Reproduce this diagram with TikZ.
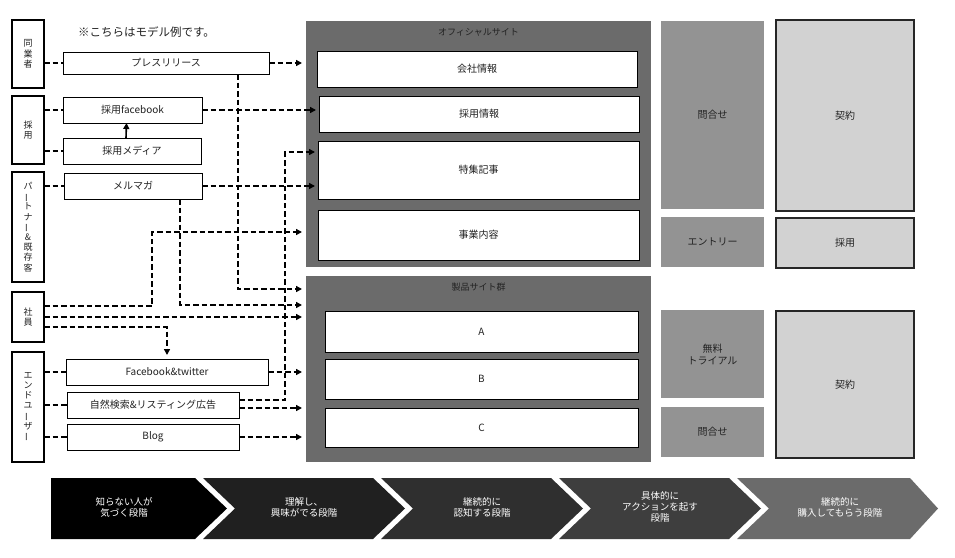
\documentclass[tikz,border=0pt]{standalone}
\usepackage{fontspec}
\setmainfont{Noto Sans CJK JP}
\usepackage{graphicx}
\usetikzlibrary{arrows.meta}
\definecolor{panelgray}{HTML}{6B6B6B}
\definecolor{midgray}{HTML}{939393}
\definecolor{lightgraybox}{HTML}{D2D2D2}
\definecolor{txt}{HTML}{222222}
\definecolor{chA}{HTML}{000000}
\definecolor{chB}{HTML}{202020}
\definecolor{chC}{HTML}{2F2F2F}
\definecolor{chD}{HTML}{3E3E3E}
\definecolor{chE}{HTML}{6B6B6B}
\newcommand\tatebar{\rotatebox[origin=c]{90}{ー}}
\newcommand\mybox[7]{\node[#6, minimum width={(#4-#2)*1pt}, minimum height={(#5-#3)*1pt}] (#1) at ({(#2+#4)/2},{(#3+#5)/2}) {#7};}
\tikzset{
  base/.style={inner sep=0pt, outer sep=0pt, text=txt, align=center, font=\fontsize{10}{12}\selectfont},
  catbox/.style={base, draw, line width=1.1pt, fill=white, font=\fontsize{9}{10.2}\selectfont},
  srcbox/.style={base, draw, line width=0.8pt, fill=white},
  panel/.style={base, fill=panelgray},
  ptitle/.style={base, font=\fontsize{9}{11}\selectfont},
  inbox/.style={base, draw, line width=0.9pt, fill=white},
  dbox/.style={base, fill=midgray},
  lbox/.style={base, draw=black!85, line width=1.2pt, fill=lightgraybox},
  chevtext/.style={base, text=white, font=\fontsize{9.5}{11}\selectfont},
  dl/.style={line width=1.8pt, dash pattern=on 5.5pt off 3pt},
  da/.style={dl, -{Triangle[length=6pt,width=6pt]}},
  sa/.style={line width=1.6pt, -{Triangle[length=6pt,width=6pt]}}
}
\begin{document}
\begin{tikzpicture}[x=1pt,y=-1pt]
\useasboundingbox (0,0) rectangle (955,557);
\fill[white] (0,0) rectangle (955,557);

% note
\node[base, font=\fontsize{11.5}{13}\selectfont] (note) at (146.5,32) {※こちらはモデル例です。};

% category boxes
\mybox{c1}{12}{20}{44}{88}{catbox}{同\\業\\者}
\mybox{c2}{12}{96}{44}{164}{catbox}{採\\用}
\mybox{c3}{12}{172}{44}{282}{catbox}{パ\\\tatebar\\ト\\ナ\\\tatebar\\\&\\既\\存\\客}
\mybox{c4}{12}{292}{44}{342}{catbox}{社\\員}
\mybox{c5}{12}{352}{44}{462}{catbox}{エ\\ン\\ド\\ユ\\\tatebar\\ザ\\\tatebar}

% source boxes
\mybox{press}{63}{52}{269}{74}{srcbox}{プレスリリース}
\mybox{fb}{63}{97}{202}{123}{srcbox}{採用facebook}
\mybox{media}{63}{138}{201}{164}{srcbox}{採用メディア}
\mybox{mail}{64}{173}{202}{199}{srcbox}{メルマガ}
\mybox{fbtw}{66}{359}{268}{385}{srcbox}{Facebook\&twitter}
\mybox{search}{67}{392}{239}{418}{srcbox}{自然検索\&リスティング広告}
\mybox{blog}{67}{424}{239}{450}{srcbox}{Blog}

% panels
\mybox{off}{306}{21}{651}{267}{panel}{}
\mybox{prod}{306}{276}{651}{462}{panel}{}
\node[ptitle] (offt) at (478.5,32) {オフィシャルサイト};
\node[ptitle] (prodt) at (478.5,287) {製品サイト群};
\mybox{comp}{317}{51}{637}{87}{inbox}{会社情報}
\mybox{rec}{319}{96}{639}{132}{inbox}{採用情報}
\mybox{feat}{318}{141}{639}{199}{inbox}{特集記事}
\mybox{biz}{318}{210}{639}{260}{inbox}{事業内容}
\mybox{pa}{325}{311}{638}{352}{inbox}{A}
\mybox{pb}{325}{359}{638}{399}{inbox}{B}
\mybox{pc}{325}{408}{638}{447}{inbox}{C}

% right column
\mybox{inq1}{661}{21}{764}{209}{dbox}{問合せ}
\mybox{entry}{661}{217}{764}{267}{dbox}{エントリー}
\mybox{trial}{661}{310}{764}{398}{dbox}{無料\\トライアル}
\mybox{inq2}{661}{407}{764}{457}{dbox}{問合せ}
\mybox{con1}{776}{20}{914}{211}{lbox}{契約}
\mybox{hire}{776}{218}{914}{268}{lbox}{採用}
\mybox{con2}{776}{311}{914}{458}{lbox}{契約}

% helper coordinates
\coordinate (ox) at ([xshift=-4pt]off.west);
\coordinate (yp1) at (0,289);
\coordinate (yp2) at (0,305);
\coordinate (yb) at (0,232);
\coordinate (ys1) at (0,306);
\coordinate (ys2) at (0,317);
\coordinate (ys3) at (0,327);
\coordinate (k1) at (152,0);
\coordinate (k2) at (285,152);

% connectors
\draw[dl] (c1.east |- press.west) -- (press.west);
\draw[da] (press.east) -- (ox |- press.east);
\draw[dl] (c2.east |- fb.west) -- (fb.west);
\draw[dl] (c2.east |- media.west) -- (media.west);
\draw[sa] ([xshift=-6pt]media.north) -- ([xshift=-6pt]fb.south);
\draw[da] (fb.east) -- ([xshift=-3pt]rec.west |- fb.east);
\draw[dl] (c3.east |- mail.west) -- (mail.west);
\draw[da] (mail.east) -- ([xshift=-3pt]feat.west |- mail.east);
\draw[da] ([xshift=72pt]press.south) |- (ox |- yp1);
\draw[da] ([xshift=47pt]mail.south) |- (ox |- yp2);
\draw[da] (c4.east |- ys1) -| (k1 |- yb) -- (ox |- yb);
\draw[da] (c4.east |- ys2) -- (ox |- ys2);
\draw[da] (c4.east |- ys3) -| ([yshift=4pt]fbtw.north);
\draw[dl] (c5.east |- fbtw.west) -- (fbtw.west);
\draw[dl] (c5.east |- search.west) -- (search.west);
\draw[dl] (c5.east |- blog.west) -- (blog.west);
\draw[da] (fbtw.east) -- (ox |- fbtw.east);
\draw[da] ([yshift=5pt]search.east) -| (k2) -- ([xshift=-3pt]feat.west |- k2);
\draw[da] ([yshift=-3pt]search.east) -- ([yshift=-3pt]ox |- search.east);
\draw[da] (blog.east) -- (ox |- blog.east);

% chevrons
\fill[chA] (51,478) -- (195,478) -- (227,508.5) -- (195,539) -- (51,539) -- cycle;
\fill[chB] (203,478) -- (373,478) -- (405,508.5) -- (373,539) -- (203,539) -- (235,508.5) -- cycle;
\fill[chC] (381,478) -- (551,478) -- (583,508.5) -- (551,539) -- (381,539) -- (413,508.5) -- cycle;
\fill[chD] (559,478) -- (729,478) -- (761,508.5) -- (729,539) -- (559,539) -- (591,508.5) -- cycle;
\fill[chE] (737,478) -- (910,478) -- (938,508.5) -- (910,539) -- (737,539) -- (769,508.5) -- cycle;
\node[chevtext] (s1) at (124,507) {知らない人が\\気づく段階};
\node[chevtext] (s2) at (304,507) {理解し、\\興味がでる段階};
\node[chevtext] (s3) at (482,507) {継続的に\\認知する段階};
\node[chevtext] (s4) at (660,507) {具体的に\\アクションを起す\\段階};
\node[chevtext] (s5) at (840,507) {継続的に\\購入してもらう段階};
\end{tikzpicture}
\end{document}
